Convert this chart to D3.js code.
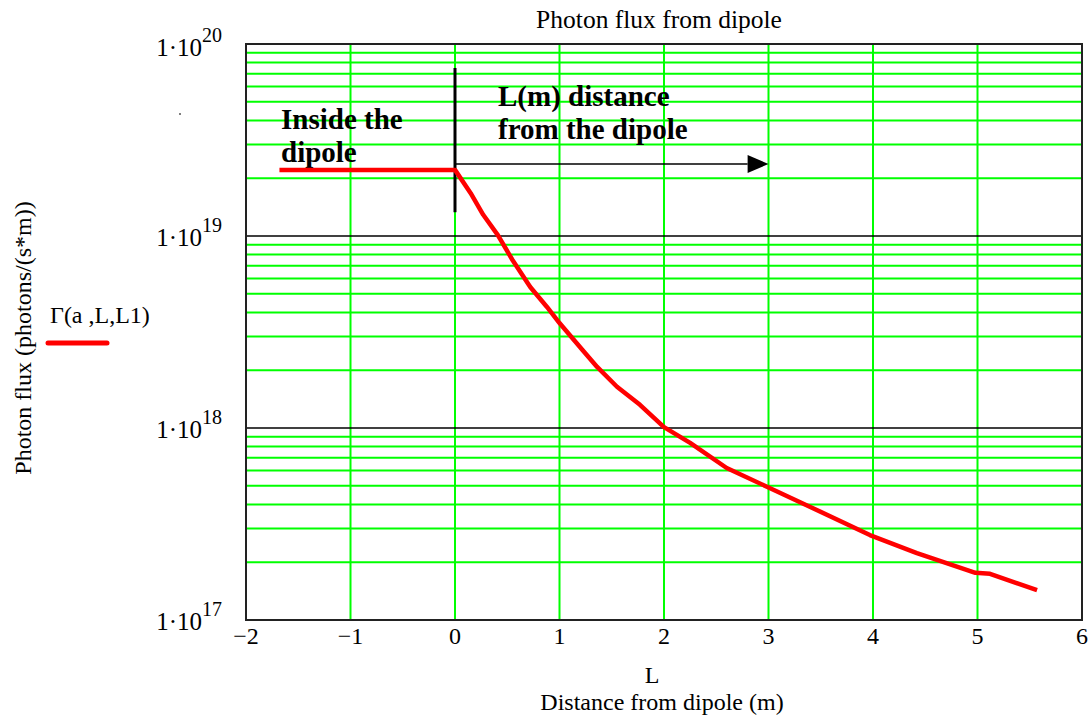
<!DOCTYPE html>
<html>
<head>
<meta charset="utf-8">
<script src="https://cdn.jsdelivr.net/npm/d3@7"></script>
<style>
  body { margin: 0; background: #fff; }
  text { font-family: "Liberation Serif", "Times New Roman", serif; fill: #000; }
  .ann { font-weight: bold; font-size: 29px; }
</style>
</head>
<body>
<div class="grafico"></div>
<script>
/*Datos: distancia L (m) y flujo de fotones*/
const distanceL = [-1.68, 0, 0.15, 0.27, 0.41, 0.55, 0.72, 0.88, 1.0, 1.22, 1.36, 1.55, 1.77, 2.0, 2.25, 2.6, 2.99, 3.4, 3.97, 4.42, 4.98, 5.12, 5.57];
const photonFlux = [2.21e19, 2.21e19, 1.67e19, 1.29e19, 1.01e19, 7.5e18, 5.42e18, 4.27e18, 3.52e18, 2.55e18, 2.08e18, 1.64e18, 1.32e18, 1.01e18, 8.36e17, 6.19e17, 4.93e17, 3.88e17, 2.77e17, 2.23e17, 1.76e17, 1.74e17, 1.43e17];

/*Ticks*/
const xTicks = [-2, -1, 0, 1, 2, 3, 4, 5, 6];
const yDecades = [17, 18, 19, 20];

const graph = () => {
  const w = 1088;
  const h = 716;
  const left = 246, right = 1082, top = 44, bottom = 620;

  const xScale = d3.scaleLinear().domain([-2, 6]).range([left, right]);
  const yScale = d3.scaleLog().domain([1e17, 1e20]).range([bottom, top]);

  const svg = d3.select('.grafico')
    .append('svg')
    .attr('width', w)
    .attr('height', h);

  /*Rejilla verde*/
  const minor = [];
  yDecades.slice(0, -1).forEach(e => {
    for (let k = 2; k <= 9; k++) minor.push(k * Math.pow(10, e));
  });

  svg.append('g')
    .selectAll('line')
    .data(minor)
    .join('line')
    .attr('x1', left).attr('x2', right)
    .attr('y1', d => yScale(d)).attr('y2', d => yScale(d))
    .attr('stroke', '#00ff00')
    .attr('stroke-width', 2);

  svg.append('g')
    .selectAll('line')
    .data(xTicks.slice(1, -1))
    .join('line')
    .attr('x1', d => xScale(d)).attr('x2', d => xScale(d))
    .attr('y1', top).attr('y2', bottom)
    .attr('stroke', '#00ff00')
    .attr('stroke-width', 2);

  /*Líneas de década*/
  svg.append('g')
    .selectAll('line')
    .data([1e18, 1e19])
    .join('line')
    .attr('x1', left).attr('x2', right)
    .attr('y1', d => yScale(d)).attr('y2', d => yScale(d))
    .attr('stroke', '#000')
    .attr('stroke-width', 1.5);

  /*Marco*/
  svg.append('rect')
    .attr('x', left).attr('y', top)
    .attr('width', right - left).attr('height', bottom - top)
    .attr('fill', 'none')
    .attr('stroke', '#222')
    .attr('stroke-width', 2);

  /*Etiquetas eje X*/
  svg.append('g')
    .selectAll('text')
    .data(xTicks)
    .join('text')
    .attr('x', d => xScale(d))
    .attr('y', bottom + 24)
    .attr('text-anchor', 'middle')
    .style('font-size', '24px')
    .text(d => d < 0 ? '\u2212' + Math.abs(d) : d);

  /*Etiquetas eje Y*/
  const yLab = svg.append('g')
    .selectAll('text')
    .data(yDecades)
    .join('text')
    .attr('x', 222)
    .attr('y', d => yScale(Math.pow(10, d)) + (d === 20 ? 12 : 10))
    .attr('text-anchor', 'end')
    .style('font-size', '25px');
  yLab.append('tspan').text('1\u00b710');
  yLab.append('tspan')
    .attr('dy', -14)
    .style('font-size', '20px')
    .text(d => d);

  svg.append('circle')
    .attr('cx', 180).attr('cy', 114).attr('r', 1)
    .attr('fill', '#555');

  /*Títulos*/
  svg.append('text')
    .attr('x', 659).attr('y', 28)
    .attr('text-anchor', 'middle')
    .style('font-size', '25.5px')
    .text('Photon flux from dipole');

  svg.append('text')
    .attr('x', 652).attr('y', 683)
    .attr('text-anchor', 'middle')
    .style('font-size', '24px')
    .text('L');

  svg.append('text')
    .attr('x', 662).attr('y', 710)
    .attr('text-anchor', 'middle')
    .style('font-size', '24px')
    .text('Distance from dipole (m)');

  svg.append('text')
    .attr('transform', 'translate(31,338) rotate(-90)')
    .attr('text-anchor', 'middle')
    .style('font-size', '24px')
    .text('Photon flux (photons/(s*m))');

  /*Leyenda*/
  svg.append('text')
    .attr('x', 50).attr('y', 323)
    .style('font-size', '24px')
    .text('\u0393(a ,L,L1)');

  svg.append('line')
    .attr('x1', 48).attr('x2', 107)
    .attr('y1', 343).attr('y2', 343)
    .attr('stroke', '#ff0000')
    .attr('stroke-width', 5)
    .attr('stroke-linecap', 'round');

  /*Anotaciones*/
  svg.append('line')
    .attr('x1', xScale(0)).attr('x2', xScale(0))
    .attr('y1', yScale(7.5e19)).attr('y2', yScale(1.33e19))
    .attr('stroke', '#000')
    .attr('stroke-width', 3);

  const arrowY = yScale(2.37e19);
  svg.append('line')
    .attr('x1', xScale(0)).attr('x2', xScale(2.8))
    .attr('y1', arrowY).attr('y2', arrowY)
    .attr('stroke', '#000')
    .attr('stroke-width', 1.5);

  svg.append('path')
    .attr('d', `M${xScale(2.8)},${arrowY - 9} L${xScale(3)},${arrowY} L${xScale(2.8)},${arrowY + 9} Z`)
    .attr('fill', '#000');

  svg.append('text').attr('class', 'ann').attr('x', 281).attr('y', 129).text('Inside the');
  svg.append('text').attr('class', 'ann').attr('x', 281).attr('y', 162).text('dipole');
  svg.append('text').attr('class', 'ann').attr('x', 498).attr('y', 106).text('L(m) distance');
  svg.append('text').attr('class', 'ann').attr('x', 498).attr('y', 139).text('from the dipole');

  /*Curva*/
  const line = d3.line()
    .x((d, i) => xScale(distanceL[i]))
    .y(d => yScale(d));

  svg.append('path')
    .datum(photonFlux)
    .attr('d', line)
    .attr('fill', 'none')
    .attr('stroke', '#ff0000')
    .attr('stroke-width', 4.5)
    .attr('stroke-linejoin', 'round');
};

graph();
</script>
</body>
</html>
